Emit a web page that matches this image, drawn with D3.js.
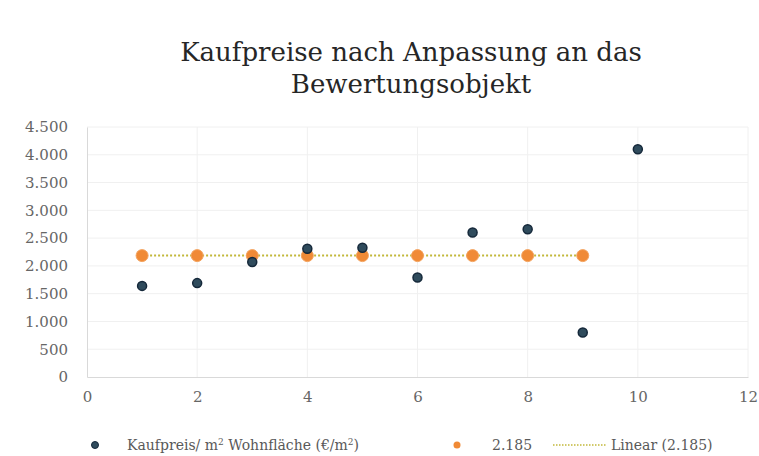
<!DOCTYPE html>
<html>
<head>
    <meta charset="utf-8">
    <script src="https://cdn.jsdelivr.net/npm/d3@7"></script>
    <style>
        body { margin: 0; background: #fff; }
        text { font-family: "DejaVu Serif", serif; }
    </style>
</head>
<body>
    <script>
        // Kaufpreis pro m2 Wohnfläche nach Anpassung
        var xValues = [1, 2, 3, 4, 5, 6, 7, 8, 9, 10];
        var kaufpreise = [1640, 1690, 2070, 2310, 2325, 1790, 2600, 2660, 800, 4100];
        // Mittelwert-Reihe "2.185"
        var meanX = [1, 2, 3, 4, 5, 6, 7, 8, 9];
        var meanValue = 2185;
        var yTicks = [0, 500, 1000, 1500, 2000, 2500, 3000, 3500, 4000, 4500];
        var xTicks = [0, 2, 4, 6, 8, 10, 12];

        var width = 759, height = 456;
        var margin = { left: 87, right: 11, top: 127, bottom: 79 };

        var de = d3.formatLocale({ decimal: ",", thousands: ".", grouping: [3], currency: ["", " €"] });
        var fmt = de.format(",d");

        var svg = d3.select('body')
            .append('svg')
            .attr('width', width)
            .attr('height', height);

        var x = d3.scaleLinear().domain([0, 12]).range([margin.left, width - margin.right]);
        var y = d3.scaleLinear().domain([0, 4500]).range([height - margin.bottom, margin.top]);

        // title
        var title = svg.append('text')
            .attr('text-anchor', 'middle')
            .attr('fill', '#262626')
            .style('font-size', '26px');
        title.append('tspan').attr('x', 411).attr('y', 61).text('Kaufpreise nach Anpassung an das');
        title.append('tspan').attr('x', 411).attr('y', 93).text('Bewertungsobjekt');

        // gridlines
        svg.append('g')
            .selectAll('line')
            .data(yTicks.slice(1))
            .enter()
            .append('line')
            .attr('x1', x(0)).attr('x2', x(12))
            .attr('y1', function (d) { return y(d); })
            .attr('y2', function (d) { return y(d); })
            .attr('stroke', '#f0f0f0');
        svg.append('g')
            .selectAll('line')
            .data(xTicks.slice(1))
            .enter()
            .append('line')
            .attr('y1', y(0)).attr('y2', y(4500))
            .attr('x1', function (d) { return x(d); })
            .attr('x2', function (d) { return x(d); })
            .attr('stroke', '#f0f0f0');

        // axes
        var yAxis = svg.append('g')
            .attr('transform', 'translate(' + margin.left + ',0)')
            .call(d3.axisLeft(y).tickValues(yTicks).tickFormat(fmt).tickSize(0).tickPadding(19));
        var xAxis = svg.append('g')
            .attr('transform', 'translate(0,' + y(0) + ')')
            .call(d3.axisBottom(x).tickValues(xTicks).tickSize(0).tickPadding(14));
        [yAxis, xAxis].forEach(function (a) {
            a.select('.domain').attr('stroke', '#d9d9d9');
            a.selectAll('text')
                .attr('fill', '#666')
                .style('font-family', '"DejaVu Serif", serif')
                .style('font-size', '15px');
        });

        // trendline (linear through the mean series)
        var trend = d3.line()
            .x(function (d) { return x(d); })
            .y(function () { return y(meanValue); });
        svg.append('path')
            .datum([d3.min(meanX), d3.max(meanX)])
            .attr('d', trend)
            .attr('fill', 'none')
            .attr('stroke', '#c2b83a')
            .attr('stroke-width', 2)
            .attr('stroke-dasharray', '2,2');

        // mean series points
        svg.append('g')
            .selectAll('circle')
            .data(meanX)
            .enter()
            .append('circle')
            .attr('cx', function (d) { return x(d); })
            .attr('cy', y(meanValue))
            .attr('r', 6)
            .attr('fill', '#f08a36')
            .attr('stroke', '#f4a460')
            .attr('stroke-width', 1);

        // Kaufpreis points
        svg.append('g')
            .selectAll('circle')
            .data(kaufpreise)
            .enter()
            .append('circle')
            .attr('cx', function (d, i) { return x(xValues[i]); })
            .attr('cy', function (d) { return y(d); })
            .attr('r', 4.5)
            .attr('fill', '#2f4b5c')
            .attr('stroke', '#15283a')
            .attr('stroke-width', 1.5);

        // legend
        var legend = svg.append('g').attr('transform', 'translate(0,445)');
        legend.append('circle').attr('cx', 95).attr('cy', 0).attr('r', 3.5)
            .attr('fill', '#2f4b5c').attr('stroke', '#15283a');
        var l1 = legend.append('text').attr('x', 127).attr('y', 5)
            .attr('fill', '#595959').style('font-size', '14px');
        l1.append('tspan').text('Kaufpreis/ m');
        l1.append('tspan').attr('dy', -5).style('font-size', '9px').text('2');
        l1.append('tspan').attr('dy', 5).text(' Wohnfläche (€/m');
        l1.append('tspan').attr('dy', -5).style('font-size', '9px').text('2');
        l1.append('tspan').attr('dy', 5).text(')');

        legend.append('circle').attr('cx', 457).attr('cy', 0).attr('r', 3.5).attr('fill', '#f08a36');
        legend.append('text').attr('x', 492).attr('y', 5)
            .attr('fill', '#595959').style('font-size', '14px').text('2.185');
        legend.append('line').attr('x1', 553).attr('x2', 607).attr('y1', 0).attr('y2', 0)
            .attr('stroke', '#c2b83a').attr('stroke-width', 1.5).attr('stroke-dasharray', '1.5,1.5');
        legend.append('text').attr('x', 611).attr('y', 5)
            .attr('fill', '#595959').style('font-size', '14px').text('Linear (2.185)');
    </script>
</body>
</html>
